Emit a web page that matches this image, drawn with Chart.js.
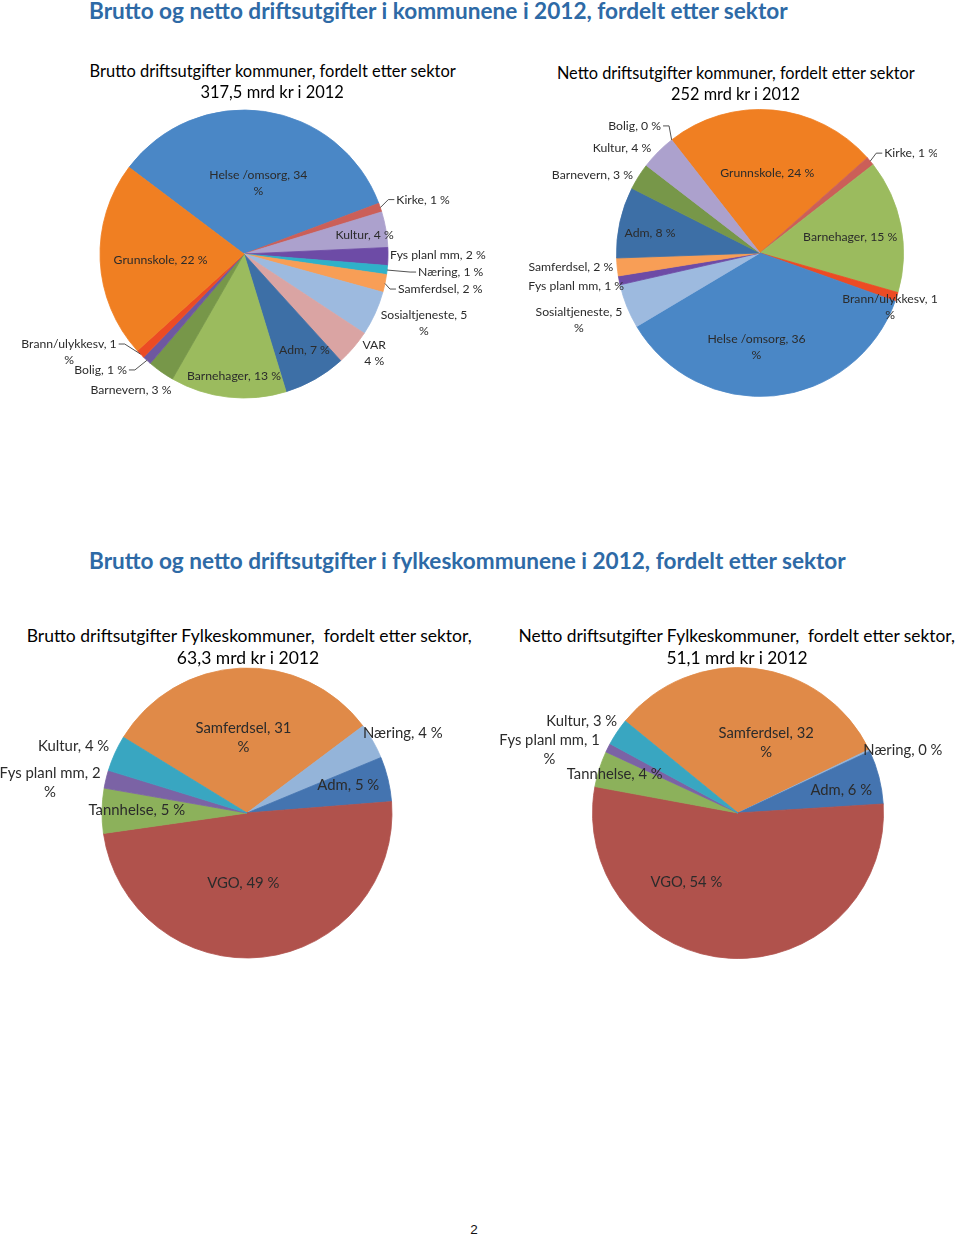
<!DOCTYPE html>
<html>
<head>
<meta charset="utf-8">
<script src="https://cdn.jsdelivr.net/npm/chart.js@4.4.1/dist/chart.umd.min.js"></script>
<style>
  html, body { margin: 0; padding: 0; background: #ffffff; }
  body { position: relative; width: 960px; height: 1241px; overflow: hidden; font-family: Lato, "Open Sans", sans-serif; }
  .box { position: absolute; }
  .box canvas { display: block; }
</style>
</head>
<body>
<div class="box" id="b1"><canvas id="c1"></canvas></div>
<div class="box" id="b2"><canvas id="c2"></canvas></div>
<div class="box" id="b3"><canvas id="c3"></canvas></div>
<div class="box" id="b4"><canvas id="c4"></canvas></div>
<script>
// ---------------- DATA ----------------
const bruttoKomCategories = ['Helse /omsorg','Kirke','Kultur','Fys planl mm','Næring','Samferdsel','Sosialtjeneste','VAR','Adm','Barnehager','Barnevern','Bolig','Brann/ulykkesv','Grunnskole'];
const bruttoKomValues     = [34, 1, 4, 2, 1, 2, 5, 4, 7, 13, 3, 1, 1, 22];

const nettoKomCategories  = ['Grunnskole','Kirke','Barnehager','Brann/ulykkesv','Helse /omsorg','Sosialtjeneste','Fys planl mm','Samferdsel','Adm','Barnevern','Kultur','Bolig'];
const nettoKomValues      = [24, 1, 15, 1, 36, 5, 1, 2, 8, 3, 4, 0];

const bruttoFylCategories = ['Samferdsel','Næring','Adm','VGO','Tannhelse','Fys planl mm','Kultur'];
const bruttoFylValues     = [31, 4, 5, 49, 5, 2, 4];

const nettoFylCategories  = ['Samferdsel','Næring','Adm','VGO','Tannhelse','Fys planl mm','Kultur'];
const nettoFylValues      = [32, 0.2, 6, 54, 4, 1, 3];

const pageHeadings = ['Brutto og netto driftsutgifter i kommunene i 2012, fordelt etter sektor',
                      'Brutto og netto driftsutgifter i fylkeskommunene i 2012, fordelt etter sektor'];
const chartTitles = [
  ['Brutto driftsutgifter kommuner, fordelt etter sektor', '317,5 mrd kr i 2012'],
  ['Netto driftsutgifter kommuner, fordelt etter sektor', '252 mrd kr i 2012'],
  ['Brutto driftsutgifter Fylkeskommuner,  fordelt etter sektor,', '63,3 mrd kr i 2012'],
  ['Netto driftsutgifter Fylkeskommuner,  fordelt etter sektor,', '51,1 mrd kr i 2012']
];
const pageNumber = '2';

// ---------------- STYLES ----------------
const kommuneColors = {
  'Helse /omsorg':'#4A87C6', 'Kirke':'#CB5F58', 'Kultur':'#ACA1CD', 'Fys planl mm':'#6D4BA6',
  'Næring':'#2FB1C9', 'Samferdsel':'#F89E56', 'Sosialtjeneste':'#9DBADF', 'VAR':'#DAA4A3',
  'Adm':'#3D6FA6', 'Barnehager':'#9BBB5E', 'Barnevern':'#779749', 'Bolig':'#6E58A0',
  'Brann/ulykkesv':'#EC4B24', 'Grunnskole':'#F07F22'
};
const fylkeColors = {
  'Samferdsel':'#E08A48', 'Næring':'#94B4D9', 'Adm':'#4474B0', 'VGO':'#B0524C',
  'Tannhelse':'#8CB15B', 'Fys planl mm':'#7B63A5', 'Kultur':'#39A6C1'
};

const layout1 = [
  {f:.5,dx:4,dy:0,wrap:'pct'},
  {f:1,dx:16,dy:-8,align:'left',leader:true},
  {f:.85,dx:0,dy:2},
  {f:1,dx:2,dy:-1.5,align:'left'},
  {f:1,dx:31,dy:2,align:'left',leader:true},
  {f:1,dx:13,dy:5.6,align:'left',leader:true},
  {f:1.3,dx:9.5,dy:-8.3,wrap:'pct'},
  {f:1.1,dx:10,dy:-4,wrap:'name'},
  {f:.78,dx:5,dy:-2},
  {f:.85,dx:3.6,dy:0},
  {f:1,dx:-30,dy:18.4},
  {f:1,dx:-20,dy:9.6,align:'right',leader:true},
  {f:1,dx:-71.4,dy:-2,wrap:'pct',leader:true},
  {f:.58,dx:0,dy:2}
];
const layout2 = [
  {f:.56,dx:0,dy:0},
  {f:1,dx:14,dy:-8,align:'left',leader:true},
  {f:.64,dx:0,dy:2},
  {f:1,dx:-6.6,dy:10,wrap:'pct'},
  {f:.658,dx:-12.7,dy:0,wrap:'pct'},
  {f:1,dx:-47.8,dy:13.4,wrap:'pct'},
  {f:1,dx:5,dy:5.6,align:'right'},
  {f:1,dx:-4,dy:0,align:'right'},
  {f:.785,dx:0,dy:4.5},
  {f:1,dx:-5.5,dy:-1,align:'right'},
  {f:1,dx:-7,dy:-4,align:'right'},
  {f:1,dx:-10.6,dy:-14,align:'right',leader:true}
];
const layout3 = [
  {f:.52,dx:0,dy:0,wrap:'pct'},
  {f:1,dx:-10,dy:-8,align:'left'},
  {f:.718,dx:0,dy:-3.7},
  {f:.484,dx:-11.4,dy:0},
  {f:.76,dx:0,dy:-1},
  {f:1,dx:-56,dy:3.6,wrap:'pct'},
  {f:1,dx:-5.6,dy:-7.3,align:'right'}
];
const layout4 = [
  {f:.484,dx:20,dy:0,wrap:'pct'},
  {f:1,dx:-6,dy:0,align:'left'},
  {f:.732,dx:0,dy:3.5},
  {f:.48,dx:-47.4,dy:0},
  {f:1,dx:15.4,dy:5.2},
  {f:1,dx:-58.4,dy:2.2,wrap:'pct'},
  {f:1,dx:0,dy:-10.4,align:'right'}
];

const FONT = 'Lato';

// ---------------- TEXT HELPERS ----------------
function placeText(txt, o) {
  const d = document.createElement('div');
  d.style.cssText = `position:absolute;left:0;top:0;white-space:pre;font-family:${o.family||FONT};font-weight:${o.weight||400};font-size:${o.size}px;color:${o.color||'#000'};line-height:1.2`;
  d.textContent = txt;
  const m = document.createElement('span');
  m.style.cssText = 'display:inline-block;width:0;height:0;vertical-align:baseline';
  d.appendChild(m);
  document.body.appendChild(d);
  let size = o.size;
  if (o.width) {
    const w = d.getBoundingClientRect().width;
    size = size * o.width / w;
    d.style.fontSize = size + 'px';
  }
  const r = d.getBoundingClientRect();
  const b = m.getBoundingClientRect().top - r.top;
  const x = (o.cx !== undefined) ? o.cx - r.width / 2 : o.left;
  d.style.left = x + 'px';
  d.style.top = (o.baseline - b) + 'px';
  return size;
}

const measureCtx = document.createElement('canvas').getContext('2d');
function fitFont(sample, targetW, weight) {
  measureCtx.font = `${weight||400} 100px ${FONT}`;
  return 100 * targetW / measureCtx.measureText(sample).width;
}

// page headings
placeText(pageHeadings[0], {left:89, baseline:18.5, width:699, size:22, weight:700, color:'#2E6AA6'});
placeText(pageHeadings[1], {left:89, baseline:569, width:757, size:22, weight:700, color:'#2E6AA6'});
placeText(pageNumber, {cx:474, baseline:1234, size:13.5, family:'"Liberation Sans", Arial', color:'#111'});

// chart titles
let s;
s = placeText(chartTitles[0][0], {cx:272.7, baseline:77.3, width:366.7, size:17});
placeText(chartTitles[0][1], {cx:272.2, baseline:98.3, size:s});
s = placeText(chartTitles[1][0], {cx:735.8, baseline:79.3, width:358.3, size:17});
placeText(chartTitles[1][1], {cx:735.5, baseline:99.8, size:s});
s = placeText(chartTitles[2][0], {cx:249.2, baseline:642.3, width:445, size:18});
placeText(chartTitles[2][1], {cx:248, baseline:664.3, size:s});
s = placeText(chartTitles[3][0], {cx:736.7, baseline:641.7, width:436.7, size:18});
placeText(chartTitles[3][1], {cx:737, baseline:664.3, size:s});

// ---------------- LABEL PLUGIN ----------------
const pieLabels = {
  id: 'pieLabels',
  afterDatasetsDraw(chart, args, opts) {
    const ctx = chart.ctx;
    const meta = chart.getDatasetMeta(0);
    const ds = chart.data.datasets[0];
    ctx.save();
    ctx.font = `${opts.size}px ${FONT}`;
    ctx.fillStyle = opts.color;
    ctx.strokeStyle = opts.lineColor;
    ctx.lineWidth = 0.9;
    ctx.textBaseline = 'middle';
    meta.data.forEach((arc, i) => {
      const p = arc.getProps(['x','y','startAngle','endAngle','outerRadius'], true);
      const L = opts.layout[i];
      const a = (p.startAngle + p.endAngle) / 2;
      const ax = p.x + Math.cos(a) * p.outerRadius * L.f + (L.dx || 0);
      const ay = p.y + Math.sin(a) * p.outerRadius * L.f + (L.dy || 0);
      const label = chart.data.labels[i];
      const v = Math.round(ds.data[i]);
      let lines;
      if (L.wrap === 'pct') lines = [`${label}, ${v}`, '%'];
      else if (L.wrap === 'name') lines = [label, `${v} %`];
      else lines = [`${label}, ${v} %`];
      const lh = opts.lineHeight;
      const y0 = ay - (lines.length - 1) * lh / 2;
      const align = L.align || 'center';
      ctx.textAlign = align;
      lines.forEach((t, k) => ctx.fillText(t, ax, y0 + k * lh));
      if (L.leader) {
        const ex = p.x + Math.cos(a) * p.outerRadius;
        const ey = p.y + Math.sin(a) * p.outerRadius;
        const w = ctx.measureText(lines[0]).width;
        let tx;
        if (align === 'left') tx = ax - 2;
        else if (align === 'right') tx = ax + 2;
        else tx = ex > ax ? ax + w / 2 + 2 : ax - w / 2 - 2;
        const dir = ex > tx ? 1 : -1;
        ctx.beginPath();
        ctx.moveTo(ex, ey);
        ctx.lineTo(tx + dir * 6, y0);
        ctx.lineTo(tx, y0);
        ctx.stroke();
      }
    });
    ctx.restore();
  }
};

// ---------------- CHARTS ----------------
function makePie(cfg) {
  const box = document.getElementById(cfg.box);
  box.style.left = cfg.left + 'px';
  box.style.top = cfg.top + 'px';
  const cv = document.getElementById(cfg.canvas);
  cv.width = cfg.w; cv.height = cfg.h;
  cv.style.width = cfg.w + 'px'; cv.style.height = cfg.h + 'px';
  const cx = cfg.cx - cfg.left, cy = cfg.cy - cfg.top;
  const half = Math.min(cx, cfg.w - cx, cy, cfg.h - cy);
  const colors = cfg.categories.map(c => cfg.palette[c]);
  return new Chart(cv, {
    type: 'pie',
    data: {
      labels: cfg.categories,
      datasets: [{
        data: cfg.values,
        backgroundColor: colors,
        borderColor: colors,
        borderWidth: 0.8,
        radius: cfg.r
      }]
    },
    options: {
      responsive: false,
      animation: false,
      rotation: cfg.rotation,
      layout: { padding: { left: cx - half, right: cfg.w - cx - half, top: cy - half, bottom: cfg.h - cy - half } },
      plugins: {
        legend: { display: false },
        tooltip: { enabled: false },
        title: { display: false },
        pieLabels: { layout: cfg.layout, size: cfg.fontSize, lineHeight: cfg.lineHeight, color: '#2b2b2b', lineColor: '#404040' }
      }
    },
    plugins: [pieLabels]
  });
}

makePie({box:'b1', canvas:'c1', left:0, top:100, w:487, h:320, cx:244, cy:254, r:144, rotation:-53,
  categories:bruttoKomCategories, values:bruttoKomValues, palette:kommuneColors, layout:layout1,
  fontSize:fitFont('Grunnskole, 22 %', 94), lineHeight:16});
makePie({box:'b2', canvas:'c2', left:487, top:100, w:450, h:320, cx:760, cy:253, r:143.5, rotation:-38,
  categories:nettoKomCategories, values:nettoKomValues, palette:kommuneColors, layout:layout2,
  fontSize:fitFont('Barnehager, 15 %', 94.3), lineHeight:16});
makePie({box:'b3', canvas:'c3', left:0, top:660, w:490, h:320, cx:247, cy:813, r:145, rotation:-58.5,
  categories:bruttoFylCategories, values:bruttoFylValues, palette:fylkeColors, layout:layout3,
  fontSize:fitFont('Tannhelse, 5 %', 96.7), lineHeight:18.5});
makePie({box:'b4', canvas:'c4', left:490, top:660, w:470, h:320, cx:738, cy:813, r:145.5, rotation:-50.8,
  categories:nettoFylCategories, values:nettoFylValues, palette:fylkeColors, layout:layout4,
  fontSize:fitFont('Tannhelse, 4 %', 96), lineHeight:19});
</script>
</body>
</html>
